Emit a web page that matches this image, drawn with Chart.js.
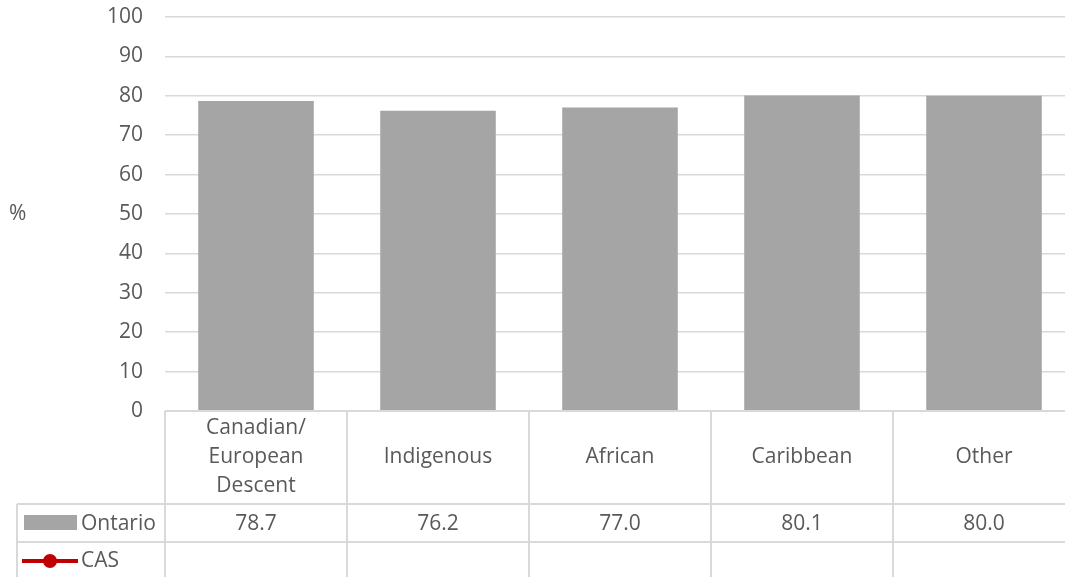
<!DOCTYPE html>
<html>
<head>
<meta charset="utf-8">
<script src="https://cdn.jsdelivr.net/npm/chart.js@4/dist/chart.umd.min.js"></script>
<style>
  html, body { margin: 0; padding: 0; background: #fff; overflow: hidden; }
  #wrap { width: 1086px; height: 577px; }
</style>
</head>
<body>
<div id="wrap"><canvas id="chartGroups" width="1086" height="577"></canvas></div>
<script>
var categories = [['Canadian/', 'European', 'Descent'], ['Indigenous'], ['African'], ['Caribbean'], ['Other']]
var ontario = [78.7, 76.2, 77.0, 80.1, 80.0]
var cas = [null, null, null, null, null]
var yTicks = [0, 10, 20, 30, 40, 50, 60, 70, 80, 90, 100]

var FONT = '"Open Sans", "Noto Sans", sans-serif'
var TEXT = '#595959'
var LINE = '#d9d9d9'

// data table under the plot, drawn from the x scale
var dataTable = {
  id: 'dataTable',
  afterDraw: function (chart) {
    var ctx = chart.ctx
    var area = chart.chartArea
    var x = chart.scales.x
    var H = chart.height
    var row1 = area.bottom + 93
    var row2 = row1 + 38
    var left = 17
    var half = (x.getPixelForValue(1) - x.getPixelForValue(0)) / 2

    ctx.save()
    ctx.strokeStyle = LINE
    ctx.lineWidth = 2
    ctx.beginPath()
    ctx.moveTo(area.left, area.bottom); ctx.lineTo(area.right, area.bottom)
    ctx.moveTo(left, row1); ctx.lineTo(area.right, row1)
    ctx.moveTo(left, row2); ctx.lineTo(area.right, row2)
    ctx.moveTo(left, row1); ctx.lineTo(left, H)
    for (var i = 0; i <= categories.length; i++) {
      var vx = x.getPixelForValue(0) - half + i * half * 2
      ctx.moveTo(vx, area.bottom); ctx.lineTo(vx, H)
    }
    ctx.stroke()

    ctx.fillStyle = TEXT
    ctx.font = '21px ' + FONT
    ctx.textAlign = 'center'
    ctx.textBaseline = 'middle'
    var mid = (area.bottom + row1) / 2
    categories.forEach(function (lines, i) {
      var cx = x.getPixelForValue(i)
      lines.forEach(function (t, j) {
        ctx.fillText(t, cx, mid + (j - (lines.length - 1) / 2) * 29)
      })
      ctx.fillText(ontario[i].toFixed(1), cx, (row1 + row2) / 2 + 1)
      if (cas[i] != null) ctx.fillText(cas[i].toFixed(1), cx, row2 + 19)
    })

    // legend keys
    ctx.fillStyle = '#a5a5a5'
    ctx.fillRect(24, row1 + 11, 53, 15)
    ctx.strokeStyle = '#c00000'
    ctx.lineWidth = 4
    ctx.beginPath()
    ctx.moveTo(22, row2 + 19); ctx.lineTo(78, row2 + 19)
    ctx.stroke()
    ctx.fillStyle = '#c00000'
    ctx.beginPath()
    ctx.arc(50, row2 + 19, 7, 0, Math.PI * 2)
    ctx.fill()

    ctx.fillStyle = TEXT
    ctx.textAlign = 'left'
    ctx.fillText('Ontario', 81, (row1 + row2) / 2 + 1)
    ctx.fillText('CAS', 81, row2 + 19)

    // axis title
    ctx.fillText('%', 9, (area.top + area.bottom) / 2)
    ctx.restore()
  }
}

var ctx = document.getElementById('chartGroups').getContext('2d')

var chart = new Chart(ctx, {
  type: 'bar',
  data: {
    labels: categories,
    datasets: [
      {
        label: 'Ontario',
        data: ontario,
        backgroundColor: '#a5a5a5',
        barPercentage: 0.635,
        categoryPercentage: 1,
        order: 2,
      },
      {
        type: 'line',
        label: 'CAS',
        data: cas,
        borderColor: '#c00000',
        backgroundColor: '#c00000',
        borderWidth: 4,
        pointRadius: 7,
        order: 1,
      },
    ],
  },
  options: {
    responsive: false,
    animation: false,
    layout: { padding: { top: 17, right: 5, bottom: 166, left: 0 } },
    plugins: { legend: { display: false }, tooltip: { enabled: false } },
    scales: {
      x: {
        ticks: { display: false },
        grid: { display: false, drawTicks: false },
        border: { display: false },
      },
      y: {
        min: 0,
        max: 100,
        afterFit: function (scale) {
          scale.width = 165
          scale.paddingTop = 0
          scale.paddingBottom = 0
        },
        afterBuildTicks: function (scale) {
          scale.ticks = yTicks.map(function (v) { return { value: v } })
        },
        ticks: {
          padding: 22,
          color: TEXT,
          font: { family: FONT, size: 21 },
        },
        grid: { color: LINE, lineWidth: 1.5, drawTicks: false },
        border: { display: false },
      },
    },
  },
  plugins: [dataTable],
})
</script>
</body>
</html>
